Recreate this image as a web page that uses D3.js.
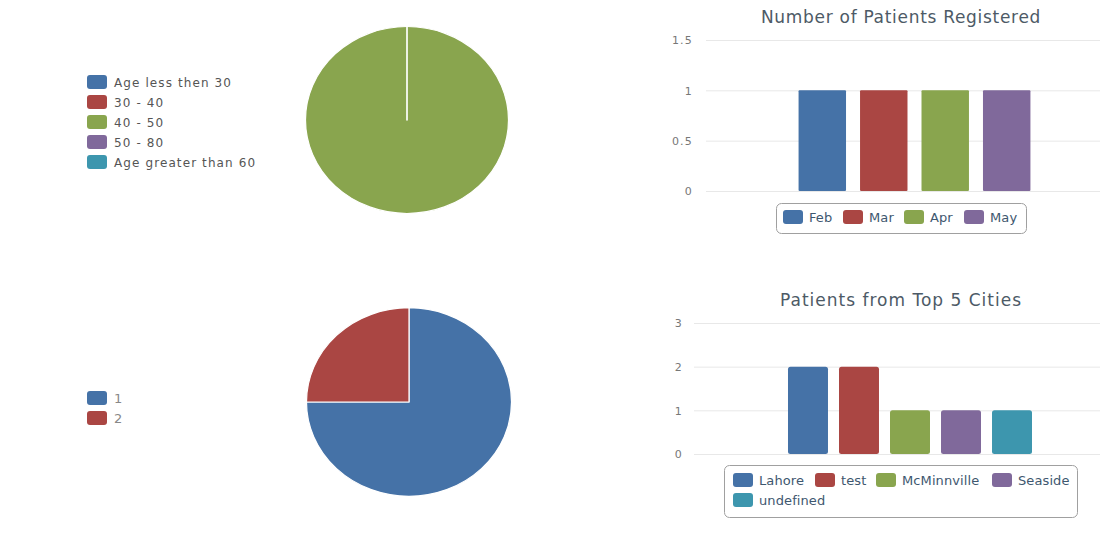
<!DOCTYPE html>
<html><head><meta charset="utf-8">
<script src="https://cdn.jsdelivr.net/npm/d3@7"></script>
<style>
body{margin:0;background:#fff;}
svg{display:block;font-family:"DejaVu Sans",sans-serif;}
</style></head>
<body>
<svg id="c" width="1100" height="550"></svg>
<script>
// ---- DATA ----
const colors = ["#4572A7","#AA4643","#89A54E","#80699B","#3D96AE"];
const ageLabels = ["Age less then 30","30 - 40","40 - 50","50 - 80","Age greater than 60"];
const ageValues = [0,0,1,0,0];
const pie2Labels = ["1","2"];
const pie2Values = [3,1];
const regTitle = "Number of Patients Registered";
const regSeries = ["Feb","Mar","Apr","May"];
const regValues = [1,1,1,1];
const regTicks = [0,0.5,1,1.5];
const cityTitle = "Patients from Top 5 Cities";
const citySeries = ["Lahore","test","McMinnville","Seaside","undefined"];
const cityValues = [2,2,1,1,1];
const cityTicks = [0,1,2,3];

const svg = d3.select("#c");

// ---- PIES ----
function drawPie(cfg){
  const g = svg.append("g").attr("transform",`translate(${cfg.cx},${cfg.cy}) scale(${cfg.rx/100},${cfg.ry/100})`);
  const pie = d3.pie().sort(null).value(d=>d)(cfg.values);
  const arc = d3.arc().innerRadius(0).outerRadius(100);
  g.selectAll("path").data(pie).join("path")
    .attr("d",arc)
    .attr("fill",(d,i)=>colors[i])
    .attr("stroke","#fff").attr("stroke-width",1.2)
    .attr("vector-effect","non-scaling-stroke")
    .attr("stroke-linejoin","round");
  const lg = svg.append("g");
  cfg.labels.forEach((l,i)=>{
    const y = cfg.ly + i*20;
    lg.append("rect").attr("x",87).attr("y",y-7).attr("width",20).attr("height",14).attr("rx",3)
      .attr("fill",colors[i]);
    lg.append("text").attr("x",114).attr("y",y+4.5).text(l)
      .attr("font-size",cfg.fs).attr("fill",cfg.tc).attr("letter-spacing",cfg.ls);
  });
}
drawPie({cx:407,cy:120,rx:101.5,ry:93.5,values:ageValues,labels:ageLabels,ly:82,fs:12,tc:"#555",ls:1.1});
drawPie({cx:409,cy:402,rx:102.5,ry:94.3,values:pie2Values,labels:pie2Labels,ly:398,fs:13,tc:"#888",ls:0});

// ---- BARS ----
function drawBars(cfg){
  const g = svg.append("g");
  const y = d3.scaleLinear().domain([0,cfg.max]).range([cfg.y0,cfg.yTop]);
  g.selectAll("line.grid").data(cfg.ticks).join("line")
    .attr("x1",cfg.x0).attr("x2",1100).attr("y1",d=>y(d)+0.5).attr("y2",d=>y(d)+0.5)
    .attr("stroke","#e8e8e8").attr("stroke-width",1);
  const ax = d3.axisLeft(y).tickValues(cfg.ticks).tickSize(0).tickPadding(0).tickFormat(d3.format("~g"));
  const axg = g.append("g").attr("transform",`translate(${cfg.lx},0)`).call(ax);
  axg.select(".domain").remove();
  axg.selectAll("text").attr("font-size",11).attr("fill","#777").attr("letter-spacing",1.2)
    .attr("font-family","DejaVu Sans, sans-serif").attr("dy","0.35em");
  const outer = d3.scaleBand().domain([""]).range([cfg.x0,cfg.x1]).paddingOuter(cfg.po).paddingInner(0);
  const inner = d3.scaleBand().domain(cfg.series).range([0,outer.bandwidth()]).paddingInner(cfg.pi).paddingOuter(cfg.pi/2);
  g.selectAll("rect.bar").data(cfg.values).join("rect")
    .attr("x",(d,i)=>outer("")+inner(cfg.series[i]))
    .attr("width",inner.bandwidth())
    .attr("y",d=>y(d))
    .attr("height",d=>y(0)-y(d))
    .attr("rx",cfg.rr)
    .attr("fill",(d,i)=>colors[i]);
  g.append("text").attr("x",cfg.tx).attr("y",cfg.ty).attr("text-anchor","middle")
    .attr("font-size",17).attr("fill","#4d5a66").attr("letter-spacing",cfg.tls).text(cfg.title);
  const L = cfg.legend;
  g.append("rect").attr("x",L.x+0.5).attr("y",L.y+0.5).attr("width",L.w).attr("height",L.h).attr("rx",5)
    .attr("fill","#fff").attr("stroke","#a0a0a0").attr("stroke-width",1);
  cfg.series.forEach((s,i)=>{
    const p = L.items[i];
    g.append("rect").attr("x",p[0]).attr("y",p[1]-7).attr("width",20).attr("height",14).attr("rx",3).attr("fill",colors[i]);
    g.append("text").attr("x",p[0]+26).attr("y",p[1]+4.5).attr("font-size",13).attr("fill","#3E576F")
      .attr("letter-spacing",0.1).text(s);
  });
}
drawBars({title:regTitle,series:regSeries,values:regValues,ticks:regTicks,max:1.5,
  y0:191,yTop:40,x0:706,x1:1123,lx:693,po:0.348,pi:0.228,rr:1,tx:901,ty:23,tls:0.7,
  legend:{x:776,y:203,w:250,h:30,items:[[783,217],[843,217],[904,217],[964,217]]}});
drawBars({title:cityTitle,series:citySeries,values:cityValues,ticks:cityTicks,max:3,
  y0:454,yTop:323,x0:694,x1:1126,lx:683,po:0.347,pi:0.216,rr:2.5,tx:901,ty:306,tls:1.0,
  legend:{x:724,y:465,w:353,h:52,items:[[733,480],[815,480],[876,480],[992,480],[733,500]]}});
</script>
</body></html>
